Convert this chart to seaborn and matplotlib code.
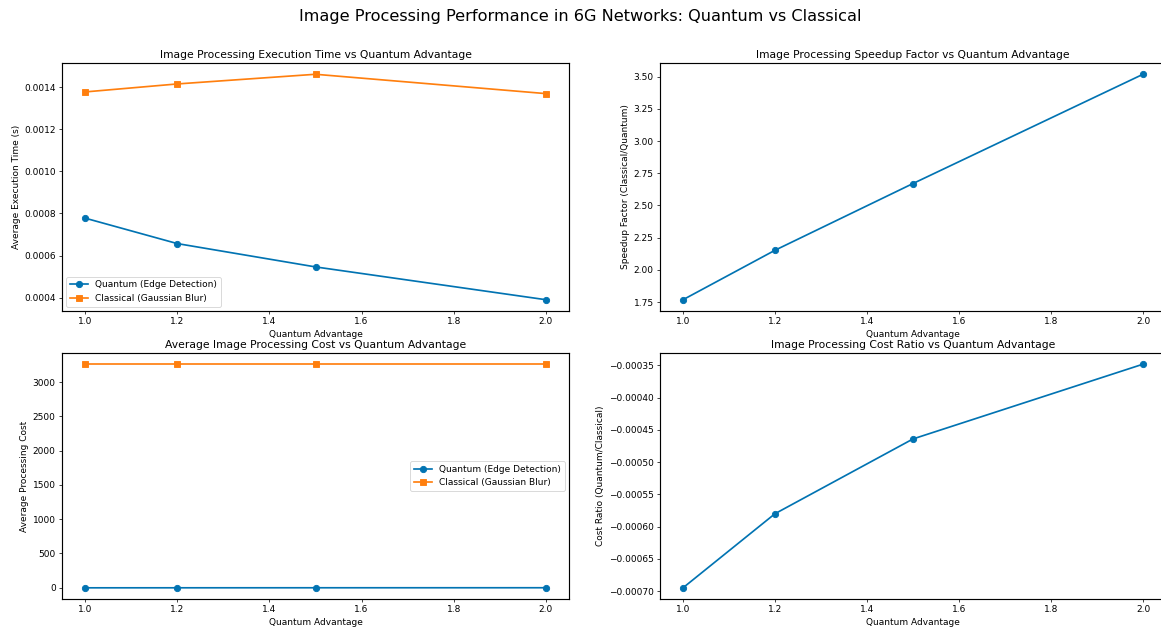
import matplotlib
matplotlib.use("Agg")
import matplotlib.pyplot as plt
import seaborn as sns
import pandas as pd

quantum_advantage = [1.0, 1.2, 1.5, 2.0]
quantum_time = [0.000778, 0.000657, 0.000546, 0.000390]
classical_time = [0.001378, 0.001416, 0.001462, 0.001370]
speedup = [1.768, 2.152, 2.670, 3.518]
quantum_cost = [-2.27, -1.89, -1.515, -1.136]
classical_cost = [3263, 3263, 3263, 3263]
cost_ratio = [-0.000695, -0.000580, -0.000464, -0.000348]

BLUE = "#0173B2"
ORANGE = "#FF7F0E"

DPI = 64.5
fig = plt.figure(figsize=(1161 / DPI, 631 / DPI), dpi=DPI)

W, H = 1161.0, 631.0
def axes_px(x0, y0, x1, y1):
    return fig.add_axes([x0 / W, 1 - y1 / H, (x1 - x0) / W, (y1 - y0) / H])

ax1 = axes_px(62, 63, 569, 311)
ax2 = axes_px(660, 63, 1166, 311)
ax3 = axes_px(62, 353, 569, 599)
ax4 = axes_px(660, 353, 1166, 599)

mk = dict(markeredgewidth=1.0, linewidth=1.9, markersize=7)

sns.lineplot(x=quantum_advantage, y=quantum_time, marker="o", color=BLUE,
             markeredgecolor=BLUE, label="Quantum (Edge Detection)", ax=ax1, **mk)
sns.lineplot(x=quantum_advantage, y=classical_time, marker="s", color=ORANGE,
             markeredgecolor=ORANGE, label="Classical (Gaussian Blur)", ax=ax1, **mk)
ax1.set_title("Image Processing Execution Time vs Quantum Advantage", fontsize=12)
ax1.set_xlabel("Quantum Advantage", fontsize=10)
ax1.set_ylabel("Average Execution Time (s)", fontsize=10)
ax1.legend(loc="lower left", fontsize=10)

sns.lineplot(x=quantum_advantage, y=speedup, marker="o", color=BLUE,
             markeredgecolor=BLUE, ax=ax2, **mk)
ax2.set_title("Image Processing Speedup Factor vs Quantum Advantage", fontsize=12)
ax2.set_xlabel("Quantum Advantage", fontsize=10)
ax2.set_ylabel("Speedup Factor (Classical/Quantum)", fontsize=10)

sns.lineplot(x=quantum_advantage, y=quantum_cost, marker="o", color=BLUE,
             markeredgecolor=BLUE, label="Quantum (Edge Detection)", ax=ax3, **mk)
sns.lineplot(x=quantum_advantage, y=classical_cost, marker="s", color=ORANGE,
             markeredgecolor=ORANGE, label="Classical (Gaussian Blur)", ax=ax3, **mk)
ax3.set_title("Average Image Processing Cost vs Quantum Advantage", fontsize=12)
ax3.set_xlabel("Quantum Advantage", fontsize=10)
ax3.set_ylabel("Average Processing Cost", fontsize=10)
ax3.legend(loc="center right", fontsize=10)

sns.lineplot(x=quantum_advantage, y=cost_ratio, marker="o", color=BLUE,
             markeredgecolor=BLUE, ax=ax4, **mk)
ax4.set_title("Image Processing Cost Ratio vs Quantum Advantage", fontsize=12)
ax4.set_xlabel("Quantum Advantage", fontsize=10)
ax4.set_ylabel("Cost Ratio (Quantum/Classical)", fontsize=10)

for ax in (ax1, ax2, ax3, ax4):
    ax.tick_params(labelsize=10)
    for s in ax.spines.values():
        s.set_linewidth(1.3)
for ax in (ax2, ax4):
    ax.spines["right"].set_visible(False)

fig.suptitle("Image Processing Performance in 6G Networks: Quantum vs Classical",
             fontsize=18, y=1 - 16 / H, va="center")

fig.savefig("out.png", dpi=DPI)
